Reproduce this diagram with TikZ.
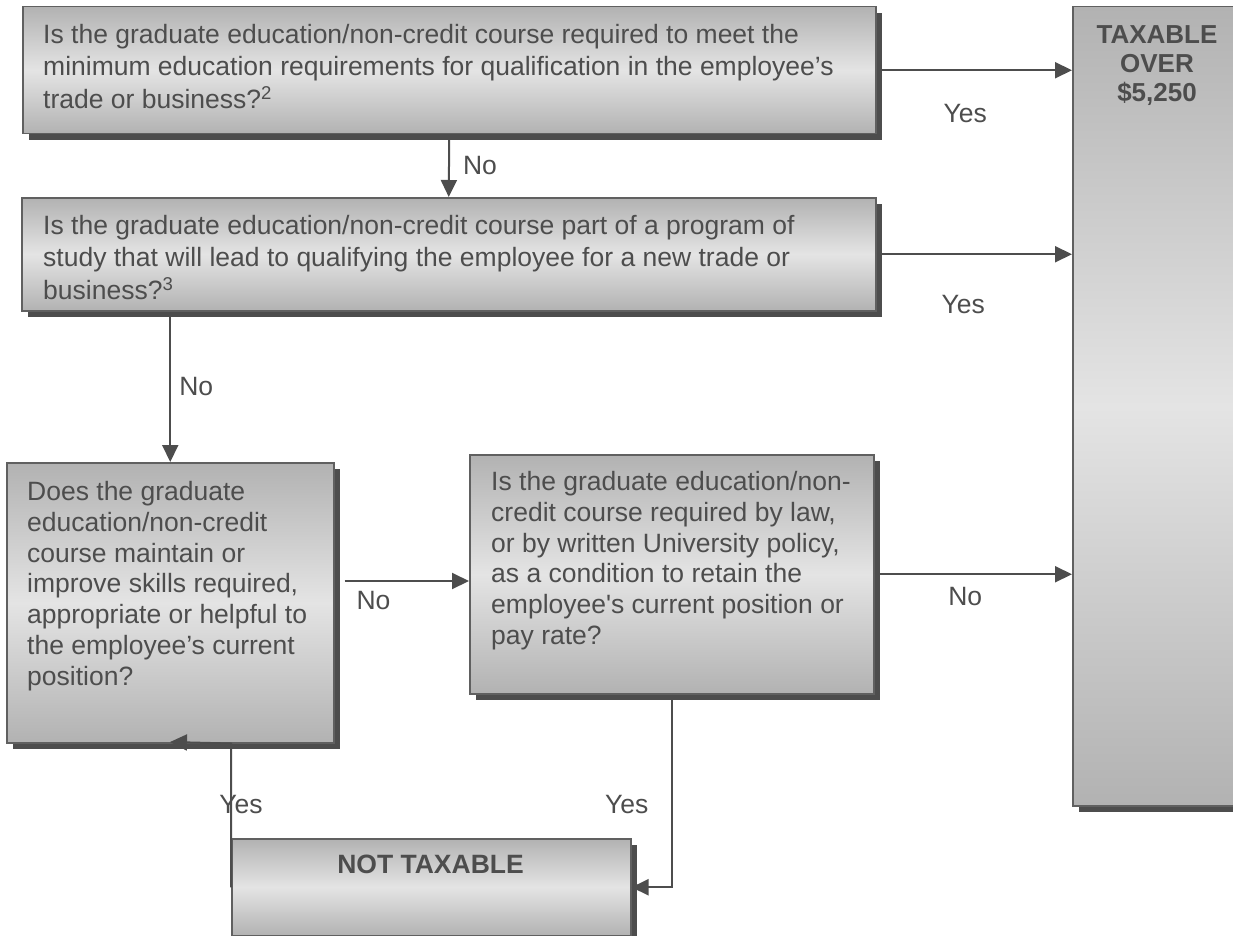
\documentclass[tikz,border=0pt]{standalone}
\usepackage{fontspec}
\setmainfont{Liberation Sans}
\usepackage{tikz}
\usetikzlibrary{calc,arrows.meta,shadows,positioning}
\definecolor{inkgray}{HTML}{4D4D4D}
\definecolor{edgegray}{HTML}{606060}
\definecolor{boxdark}{HTML}{B2B2B2}
\definecolor{boxlight}{HTML}{E4E4E4}
\tikzset{
  qbox/.style={draw=edgegray,line width=1.5pt,top color=boxdark,bottom color=boxdark,middle color=boxlight,anchor=north west,inner sep=0pt,general shadow={fill=inkgray,shadow xshift=6pt,shadow yshift=-6pt}},
  qtext/.style={anchor=north west,align=left,inner sep=0pt,text=inkgray,font=\fontsize{26.5}{30.8}\selectfont},
  conn/.style={draw=inkgray,line width=2pt,-{Triangle[length=17pt,width=16pt]}},
  lbl/.style={text=inkgray,inner sep=0pt,font=\fontsize{26.5}{31}\selectfont}
}
\begin{document}
\begin{tikzpicture}[x=1pt,y=-1pt]
              \useasboundingbox(0,0)rectangle(1233,936);
              % question boxes
              \node[qbox,minimum width=853pt,minimum height=127pt](q1)at(22,6){};
              \node[qtext,font=\fontsize{26.5}{32.5}\selectfont](q1t)at(43,24){Is the graduate education/non-credit course required to meet the\\minimum education requirements for qualification in the employee’s\\trade or business?\textsuperscript{2}};
              \node[qbox,minimum width=854pt,minimum height=113pt](q2)at(21,197){};
              \node[qtext,font=\fontsize{26.5}{32.5}\selectfont](q2t)at(43,215){Is the graduate education/non-credit course part of a program of\\study that will lead to qualifying the employee for a new trade or\\business?\textsuperscript{3}};
              \node[qbox,minimum width=327pt,minimum height=280pt](q3)at(6,462){};
              \node[qtext](q3t)at(27,481){Does the graduate\\education/non-credit\\course maintain or\\improve skills required,\\appropriate or helpful to\\the employee’s current\\position?};
              \node[qbox,minimum width=404pt,minimum height=239pt](q4)at(469,454){};
              \node[qtext](q4t)at(491,471){Is the graduate education/non-\\credit course required by law,\\or by written University policy,\\as a condition to retain the\\employee\textquotesingle s current position or\\pay rate?};
              % outcome boxes
              \node[qbox,minimum width=168pt,minimum height=799pt](tx)at(1072,6){};
              \node[qtext,anchor=north,align=center,font=\bfseries\fontsize{26}{29}\selectfont](txt)at(1157,25){TAXABLE\\OVER\\\$5,250};
              \node[qbox,minimum width=399pt,minimum height=97pt](nt)at(231,838){};
              \node[qtext,anchor=north,font=\bfseries\fontsize{26.5}{31}\selectfont](ntt)at(430.5,855){NOT TAXABLE};
              \coordinate(lvl)at(0,581);
              \coordinate(yl)at(170,742);
              % connectors
              \draw[conn](q1.south)--(q2.north)node[lbl,midway,anchor=west,xshift=13pt]{No};
              \draw[conn](q1.east)--(q1.east-|tx.west)node[lbl,midway,xshift=-9pt,yshift=-43pt]{Yes};
              \draw[conn](q2.east)--(q2.east-|tx.west)node[lbl,midway,xshift=-11pt,yshift=-50pt]{Yes};
              \draw[conn](q2.south-|q3.north)--(q3.north)node[lbl,midway,anchor=west,xshift=8pt]{No};
              \draw[conn,shorten <=10pt](q3.east|-lvl)--(q4.west|-lvl)node[lbl,pos=0.29,yshift=-20pt]{No};
              \draw[conn](q4.east)--(q4.east-|tx.west)node[lbl,midway,xshift=-8pt,yshift=-22pt]{No};
              \draw[conn](q4.south)|-(nt.east)node[lbl,pos=0.285,xshift=-45pt]{Yes};
              \draw[conn](nt.west)--node[lbl,pos=0.574,xshift=10pt]{Yes}(nt.west|-q3.south)--(yl);
            \end{tikzpicture}
\end{document}
